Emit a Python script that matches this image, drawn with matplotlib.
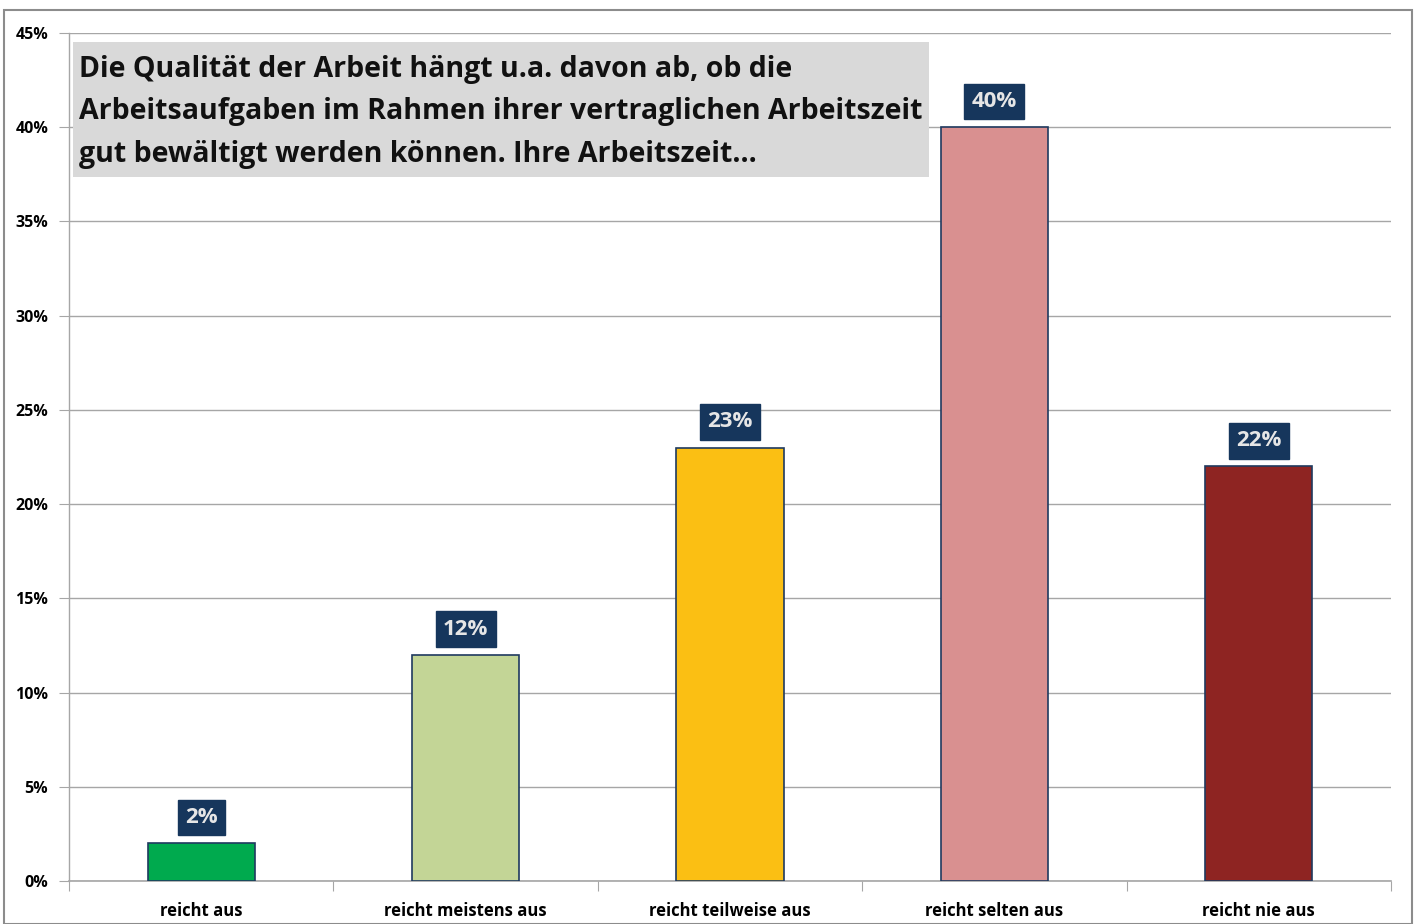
import matplotlib
matplotlib.use("Agg")
import matplotlib.pyplot as plt
from matplotlib.patches import Rectangle

categories = ["reicht aus", "reicht meistens aus", "reicht teilweise aus", "reicht selten aus", "reicht nie aus"]
values = [2, 12, 23, 40, 22]
colors = ["#00aa4e", "#c3d596", "#fbbf13", "#d99090", "#8e2422"]
ytick_vals = [0, 5, 10, 15, 20, 25, 30, 35, 40, 45]
ytick_labels = [f"{v}%" for v in ytick_vals]
title_text = ("Die Qualität der Arbeit hängt u.a. davon ab, ob die\n"
              "Arbeitsaufgaben im Rahmen ihrer vertraglichen Arbeitszeit\n"
              "gut bewältigt werden können. Ihre Arbeitszeit...")

W, H = 1415, 924
fig = plt.figure(figsize=(W / 100, H / 100), dpi=100)
fig.patch.set_facecolor("white")

# outer chart border
fig.add_artist(Rectangle((4 / W, 0), (1412 - 4) / W, 1 - 10 / H, transform=fig.transFigure,
                         fill=False, edgecolor="#8c8c8c", linewidth=1.5))

ax = fig.add_axes([69 / W, 1 - 881 / H, (1391 - 69) / W, (881 - 33) / H])
x = list(range(len(categories)))
ax.bar(x, values, width=0.405, color=colors, edgecolor="#1f3a5f", linewidth=1.2, zorder=3)
ax.set_xlim(-0.5, len(categories) - 0.5)
ax.set_ylim(0, 45)
ax.set_yticks(ytick_vals)
ax.set_yticklabels(ytick_labels, fontsize=11.5, fontweight="bold", family="Open Sans")
ax.yaxis.grid(True, color="#a6a6a6", linewidth=1, zorder=0)
ax.tick_params(axis="y", length=7, color="#a6a6a6", pad=8)
ax.set_xticks([i - 0.5 for i in range(len(categories) + 1)])
ax.set_xticklabels([])
ax.set_xticks(x, minor=True)
ax.set_xticklabels(categories, minor=True, fontsize=12, fontweight="bold", family="Open Sans")
ax.tick_params(axis="x", which="major", length=7, color="#a6a6a6", direction="out")
ax.tick_params(axis="x", which="minor", length=0, pad=15)
for s in ["top", "right"]:
    ax.spines[s].set_visible(False)
ax.spines["left"].set_color("#a6a6a6")
ax.spines["bottom"].set_color("#a6a6a6")
ax.spines["left"].set_linewidth(1)
ax.spines["bottom"].set_linewidth(1.2)

for xi, v in zip(x, values):
    ax.annotate(f"{v}%", xy=(xi, v), xytext=(0, 18.5), textcoords="offset points",
                ha="center", va="center", fontsize=16, fontweight="bold", family="Open Sans",
                color="#e6e6e6", zorder=5,
                bbox=dict(boxstyle="square,pad=0.33", facecolor="#16365c", edgecolor="#16365c"))

# title box
fig.add_artist(Rectangle((73 / W, 1 - 177 / H), (929 - 73) / W, (177 - 42) / H,
                         transform=fig.transFigure, facecolor="#d9d9d9", edgecolor="none", zorder=4))
fig.text(79 / W, 1 - 112 / H, title_text, ha="left", va="center", fontsize=20.5,
         fontweight="bold", family="Open Sans", linespacing=1.6, color="#111111", zorder=5)

fig.savefig("out.png", dpi=100)
